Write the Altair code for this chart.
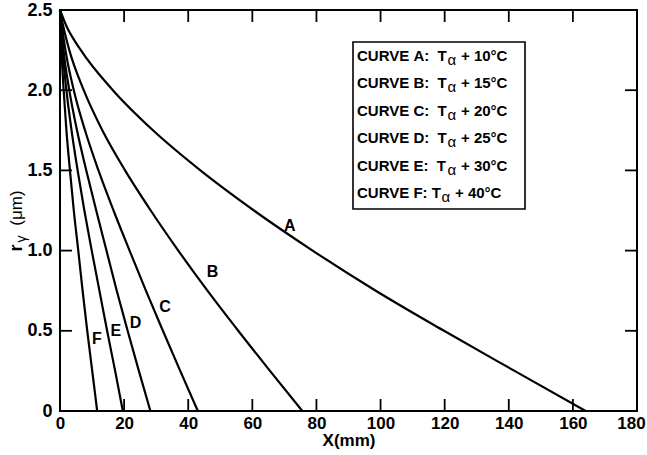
import altair as alt
import pandas as pd

# ---- data ----
r_levels = [2.5, 2.4, 2.25, 2.0, 1.75, 1.5, 1.25, 1.0, 0.75, 0.5, 0.25, 0.0]
curve_a = [0.0, 2.0, 6.5, 16.5, 29.0, 43.8, 60.5, 78.8, 98.5, 119.8, 141.8, 164.0]
curve_b = [0.0, 1.0, 2.9, 7.4, 13.2, 20.3, 28.3, 36.9, 46.0, 55.6, 65.5, 75.6]
curve_c = [0.0, 0.6, 1.7, 4.3, 7.8, 12.0, 16.7, 21.7, 26.8, 32.1, 37.5, 43.0]
curve_d = [0.0, 0.4, 1.1, 2.9, 5.3, 8.2, 11.3, 14.5, 17.7, 21.1, 24.6, 28.2]
curve_e = [0.0, 0.3, 0.8, 2.0, 3.6, 5.5, 7.6, 9.9, 12.3, 14.7, 17.2, 19.6]
curve_f = [0.0, 0.15, 0.45, 1.14, 2.0, 3.1, 4.3, 5.7, 7.05, 8.5, 10.05, 11.6]

curve_names = ["A", "B", "C", "D", "E", "F"]
legend_temps = ["10", "15", "20", "25", "30", "40"]
label_x = [71.7, 47.6, 32.8, 23.6, 17.4, 11.5]
label_y = [1.153, 0.866, 0.65, 0.548, 0.496, 0.45]

x_tick_values = [0, 20, 40, 60, 80, 100, 120, 140, 160, 180]
y_tick_values = [0, 0.5, 1.0, 1.5, 2.0, 2.5]
x_inner_ticks = [20, 40, 60, 80, 100, 120, 140, 160]
y_inner_ticks = [0.5, 1.0, 1.5, 2.0]

W, H = 577, 401
FONT = "Liberation Sans"
NB = "\u00a0"

rows = []
for name, xs in zip(curve_names, [curve_a, curve_b, curve_c, curve_d, curve_e, curve_f]):
    for i, (xv, rv) in enumerate(zip(xs, r_levels)):
        rows.append({"curve": name, "x": xv, "r": rv, "i": i})
df = pd.DataFrame(rows)

xscale = alt.Scale(domain=[0, 180], nice=False, zero=False)
yscale = alt.Scale(domain=[0, 2.5], nice=False, zero=False)

xaxis = alt.Axis(values=x_tick_values, format="d", title="X(mm)", labelPadding=4,
                 titlePadding=1, labelFlush=False, labelFontSize=17,
                 labelOffset={"condition": {"test": "datum.value == 180", "value": -6}, "value": 0})
yaxis = alt.Axis(values=y_tick_values, title=None, labelPadding=8, labelFlush=False,
                 labelFontSize=18,
                 labelExpr="datum.value == 0 ? '0' : format(datum.value, '.1f')")

lines = alt.Chart(df).mark_line(color="black", strokeWidth=2.2, interpolate="monotone").encode(
    x=alt.X("x:Q", scale=xscale, axis=xaxis),
    y=alt.Y("r:Q", scale=yscale, axis=yaxis),
    detail="curve:N",
    order="i:Q",
)

lab_df = pd.DataFrame({"x": label_x, "r": label_y, "t": curve_names})
labels = alt.Chart(lab_df).mark_text(font=FONT, fontWeight="bold", fontSize=16, color="black").encode(
    x=alt.X("x:Q", scale=xscale), y=alt.Y("r:Q", scale=yscale), text="t:N")

# inward ticks on all four sides
xt = pd.DataFrame({"x": x_inner_ticks})
yt = pd.DataFrame({"r": y_inner_ticks})
TL = 12
ticks_bottom = alt.Chart(xt).mark_rule(color="black", strokeWidth=1.8).encode(
    x=alt.X("x:Q", scale=xscale), y=alt.value(H), y2=alt.value(H - TL))
ticks_top = alt.Chart(xt).mark_rule(color="black", strokeWidth=1.8).encode(
    x=alt.X("x:Q", scale=xscale), y=alt.value(0), y2=alt.value(TL))
ticks_left = alt.Chart(yt).mark_rule(color="black", strokeWidth=1.8).encode(
    y=alt.Y("r:Q", scale=yscale), x=alt.value(0), x2=alt.value(TL))
ticks_right = alt.Chart(yt).mark_rule(color="black", strokeWidth=1.8).encode(
    y=alt.Y("r:Q", scale=yscale), x=alt.value(W), x2=alt.value(W - TL))

one = pd.DataFrame({"k": [0]})

# y-axis title r_gamma (um)
ytitle = [
    alt.Chart(one).mark_text(text="r", font=FONT, fontWeight="bold", fontSize=18, angle=270,
                             align="center", baseline="alphabetic", color="black").encode(
        x=alt.value(-38), y=alt.value(238)),
    alt.Chart(one).mark_text(text="γ", font=FONT, fontSize=14, angle=270,
                             align="center", baseline="alphabetic", color="black").encode(
        x=alt.value(-34), y=alt.value(229)),
    alt.Chart(one).mark_text(text="(μm)", font=FONT, fontSize=17, angle=270,
                             align="center", baseline="alphabetic", color="black").encode(
        x=alt.value(-38), y=alt.value(198)),
]

# legend box
box = alt.Chart(one).mark_rect(fill="white", stroke="black", strokeWidth=1.6).encode(
    x=alt.value(293), x2=alt.value(465), y=alt.value(32), y2=alt.value(199))

legend_layers = []
for i, (c, t) in enumerate(zip(curve_names, legend_temps)):
    by = 51 + i * 27.45
    if c == "F":
        prefix, adx, sdx = f"CURVE{NB}{c}:{NB}T", 84.5, 98
    else:
        prefix, adx, sdx = f"CURVE{NB}{c}:{NB}{NB}T", 90.5, 104
    x0 = 297
    legend_layers.append(alt.Chart(one).mark_text(text=prefix, font=FONT, fontWeight="bold", fontSize=15,
                                                  align="left", baseline="alphabetic", color="black").encode(
        x=alt.value(x0), y=alt.value(by)))
    legend_layers.append(alt.Chart(one).mark_text(text="α", font=FONT, fontSize=15,
                                                  align="left", baseline="alphabetic", color="black").encode(
        x=alt.value(x0 + adx), y=alt.value(by + 4)))
    legend_layers.append(alt.Chart(one).mark_text(text=f"+{NB}{t}°C", font=FONT, fontWeight="bold", fontSize=15,
                                                  align="left", baseline="alphabetic", color="black").encode(
        x=alt.value(x0 + sdx), y=alt.value(by)))

chart = alt.layer(lines, labels, ticks_bottom, ticks_top, ticks_left, ticks_right, box,
                  *legend_layers, *ytitle).properties(
    width=W, height=H,
    autosize=alt.AutoSizeParams(type="none"),
    padding={"left": 60, "top": 10, "right": 10, "bottom": 44},
    background="white",
).configure_view(stroke="black", strokeWidth=2).configure_axis(
    domain=False, ticks=False, grid=False,
    labelFont=FONT, labelFontWeight="bold", labelColor="black",
    titleFont=FONT, titleFontWeight="bold", titleFontSize=17, titleColor="black",
)

chart.save("out.html", embed_options={"renderer": "svg", "actions": False})
